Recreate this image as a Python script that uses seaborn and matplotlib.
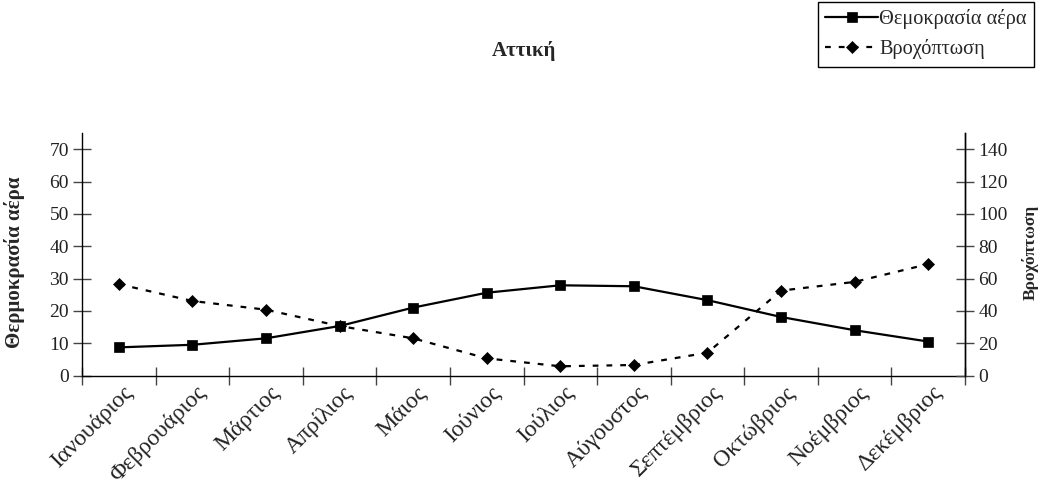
import matplotlib
matplotlib.use("Agg")
import matplotlib.pyplot as plt
import matplotlib.transforms as mtransforms
from matplotlib.ticker import FixedLocator, NullFormatter
import numpy as np
import pandas as pd
import seaborn as sns

# Monthly climate data for Attica
months = ["Ιανουάριος", "Φεβρουάριος", "Μάρτιος", "Απρίλιος", "Μάιος", "Ιούνιος",
          "Ιούλιος", "Αύγουστος", "Σεπτέμβριος", "Οκτώβριος", "Νοέμβριος", "Δεκέμβριος"]
temperature = [8.7, 9.5, 11.5, 15.3, 21.0, 25.6, 27.9, 27.6, 23.3, 18.1, 14.0, 10.5]
rainfall = [56.5, 46.1, 40.7, 30.6, 23.0, 10.6, 5.7, 6.5, 14.1, 52.5, 57.9, 68.9]
temp_ticks = [0, 10, 20, 30, 40, 50, 60, 70]
rain_ticks = [0, 20, 40, 60, 80, 100, 120, 140]

title = "Αττική"
temp_label = "Θερμοκρασία αέρα"
rain_label = "Βροχόπτωση"
temp_legend = "Θεμοκρασία αέρα"

df = pd.DataFrame({"month": months, "temp": temperature, "rain": rainfall})

sns.set_theme(style="white")
plt.rcParams["font.family"] = ["Liberation Serif", "DejaVu Serif"]
plt.rcParams["axes.edgecolor"] = "black"
plt.rcParams["axes.linewidth"] = 1.0

W, H = 1046, 487
fig = plt.figure(figsize=(W / 100, H / 100), dpi=100)
x0, x1, y0, y1 = 82, 965, 375.5, 133
ax = fig.add_axes([x0 / W, 1 - y0 / H, (x1 - x0) / W, (y0 - y1) / H])

sns.lineplot(data=df, x="month", y="temp", sort=False, ax=ax, color="black",
             linewidth=1.6, marker="s", markersize=7, markeredgecolor="black",
             markerfacecolor="black", markeredgewidth=0.5)
ax2 = ax.twinx()
sns.lineplot(data=df, x="month", y="rain", sort=False, ax=ax2, color="black",
             linewidth=1.6, linestyle=(0, (2.6, 3.6)), marker="D", markersize=6,
             markeredgecolor="black", markerfacecolor="black", markeredgewidth=0.5)

n = len(months)
ax.set_xlim(-0.5, n - 0.5)
ax.set_ylim(0, 75)
ax2.set_ylim(0, 150)

# category boundaries as major ticks, labels at category centres
ax.xaxis.set_major_locator(FixedLocator(np.arange(-0.5, n, 1.0)))
ax.xaxis.set_major_formatter(NullFormatter())
ax.set_xticks(np.arange(n), labels=months, minor=True)
ax.set_yticks(temp_ticks)
ax2.set_yticks(rain_ticks)

ax.tick_params(axis="x", which="major", direction="inout", length=13, width=1,
               color="#444444", bottom=True)
ax.tick_params(axis="x", which="minor", length=0, pad=5, labelsize=17,
               labelrotation=45)
ax.tick_params(axis="y", direction="inout", length=13, width=1, color="#444444",
               left=True, labelsize=14, pad=3, labelcolor="#222222")
ax2.tick_params(axis="y", direction="inout", length=13, width=1, color="#444444",
                right=True, labelsize=14, pad=3, labelcolor="#222222")

shift = mtransforms.ScaledTranslation(18 / 100, 0, fig.dpi_scale_trans)
for tick in ax.xaxis.get_minor_ticks():
    tick.label1.set_horizontalalignment("right")
    tick.label1.set_transform(tick.label1.get_transform() + shift)
    tick.label1.set_color("#222222")

for a in (ax, ax2):
    a.spines["top"].set_visible(False)
    a.grid(False)
ax2.spines["left"].set_visible(False)
ax2.spines["bottom"].set_visible(False)

ax.set_xlabel("")
ax.set_ylabel(temp_label, fontsize=15, fontweight="bold")
ax2.set_ylabel(rain_label, fontsize=12.5, fontweight="bold")
ax.yaxis.set_label_coords((25 - x0) / (x1 - x0), (y0 - 262) / (y0 - y1))
ax2.yaxis.set_label_coords((1022 - x0) / (x1 - x0), (y0 - 252) / (y0 - y1))

fig.text((x0 + x1) / 2 / W, 1 - 51 / H, title, ha="center", va="center",
         fontsize=15, fontweight="bold")

fig.legend([ax.lines[0], ax2.lines[0]], [temp_legend, rain_label],
           loc="upper right", bbox_to_anchor=(1034 / W, 1 - 2 / H),
           frameon=True, fancybox=False, edgecolor="black", framealpha=1,
           fontsize=14.7, handlelength=2.6, handletextpad=0.05,
           borderpad=0.35, labelspacing=0.5, borderaxespad=0)
fig.legends[0].get_frame().set_linewidth(1.0)

fig.savefig("out.png", dpi=100)
